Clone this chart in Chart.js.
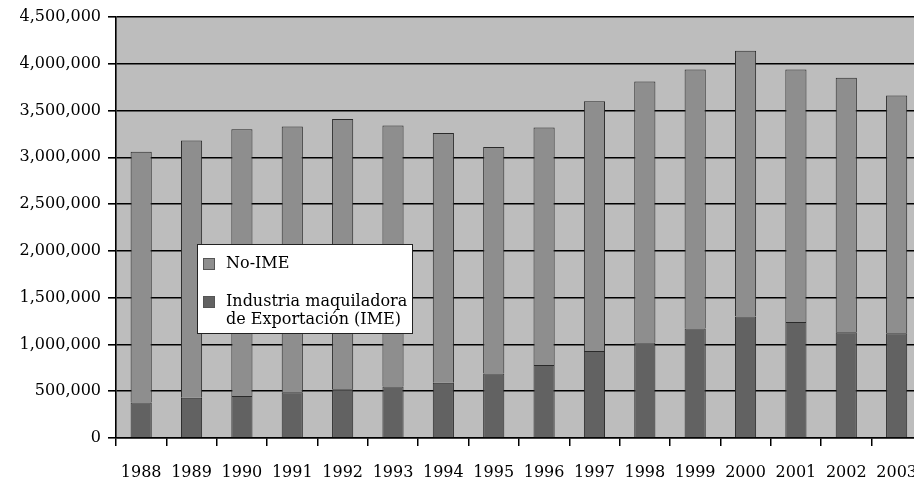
<!DOCTYPE html>
<html>
<head>
<meta charset="utf-8">
<script src="https://cdn.jsdelivr.net/npm/chart.js@4/dist/chart.umd.min.js"></script>
<style>
  html, body { margin: 0; padding: 0; background: #fff; overflow: hidden; }
  #wrap { width: 934px; height: 481px; }
</style>
</head>
<body>
<div id="wrap"><canvas id="empleoChart" width="934" height="481"></canvas></div>
<script>
// years on the x axis
const years = [
  "1988", "1989", "1990", "1991", "1992", "1993", "1994", "1995",
  "1996", "1997", "1998", "1999", "2000", "2001", "2002", "2003",
];
// Industria maquiladora de Exportación (bottom of each bar)
const imeValues = [
  380000, 430000, 450000, 490000, 520000, 550000, 590000, 690000,
  780000, 930000, 1020000, 1170000, 1300000, 1240000, 1130000, 1120000,
];
// No-IME (stacked on top)
const noImeValues = [
  2680000, 2750000, 2850000, 2840000, 2890000, 2790000, 2670000, 2420000,
  2540000, 2670000, 2790000, 2770000, 2840000, 2700000, 2720000, 2540000,
];
const yTicks = [0, 500000, 1000000, 1500000, 2000000, 2500000, 3000000, 3500000, 4000000, 4500000];
const legendLines = [
  ["No-IME"],
  ["Industria maquiladora", "de Exportación (IME)"],
];

const serif = "'DejaVu Serif', serif";

// gray plot background
const plotBg = {
  id: "plotBg",
  beforeDraw(chart) {
    const { ctx, chartArea: a } = chart;
    ctx.save();
    ctx.fillStyle = "#bdbdbd";
    ctx.fillRect(a.left, a.top, a.right - a.left, a.bottom - a.top);
    ctx.restore();
  },
};

// white legend box inside the plot
const boxLegend = {
  id: "boxLegend",
  afterDraw(chart) {
    const ctx = chart.ctx;
    const x = 197, y = 244, w = 215, h = 89;
    ctx.save();
    ctx.fillStyle = "#fff";
    ctx.fillRect(x, y, w, h);
    ctx.strokeStyle = "#222";
    ctx.lineWidth = 1;
    ctx.strokeRect(x + 0.5, y + 0.5, w, h);
    ctx.font = "16px " + serif;
    ctx.textBaseline = "middle";
    const order = [1, 0]; // No-IME first, then IME
    const rowsY = [[264], [302, 320]];
    order.forEach((di, r) => {
      const ds = chart.data.datasets[di];
      const ty = rowsY[r][0];
      ctx.fillStyle = ds.backgroundColor;
      ctx.fillRect(203, ty - 6, 12, 12);
      ctx.strokeStyle = "#555";
      ctx.strokeRect(203.5, ty - 5.5, 11, 11);
      ctx.fillStyle = "#000";
      legendLines[r].forEach((t, k) => ctx.fillText(t, 226, rowsY[r][k]));
    });
    ctx.restore();
  },
};

new Chart(document.getElementById("empleoChart").getContext("2d"), {
  type: "bar",
  data: {
    labels: years,
    datasets: [
      {
        label: "Industria maquiladora de Exportación (IME)",
        data: imeValues,
        backgroundColor: "#626262",
        borderColor: "#2a2a2a",
        borderWidth: 1,
        barPercentage: 0.42,
        categoryPercentage: 1,
      },
      {
        label: "No-IME",
        data: noImeValues,
        backgroundColor: "#8e8e8e",
        borderColor: "#2a2a2a",
        borderWidth: 1,
        barPercentage: 0.42,
        categoryPercentage: 1,
      },
    ],
  },
  options: {
    responsive: false,
    animation: false,
    layout: { padding: { top: 17, right: 0, left: 0, bottom: 0 } },
    plugins: { legend: { display: false }, tooltip: { enabled: false } },
    scales: {
      x: {
        stacked: true,
        grid: { drawOnChartArea: false, drawTicks: true, tickLength: 8, color: "#000", lineWidth: 1.5, offset: true },
        border: { display: true, color: "#000", width: 1.6 },
        ticks: { color: "#000", font: { family: serif, size: 16 }, padding: 17, maxRotation: 0, autoSkip: false },
        afterFit(s) { s.height = 43; },
      },
      y: {
        stacked: true,
        min: 0,
        max: 4500000,
        afterBuildTicks(s) { s.ticks = yTicks.map((v) => ({ value: v })); },
        grid: { color: "#000", lineWidth: 1.6, tickLength: 8, tickColor: "#000" },
        border: { display: true, color: "#000", width: 1.6 },
        ticks: {
          color: "#000",
          font: { family: serif, size: 16 },
          padding: 7,
          callback: (v) => v.toLocaleString("en-US"),
        },
        afterFit(s) { s.width = 116; },
      },
    },
  },
  plugins: [plotBg, boxLegend],
});
</script>
</body>
</html>
